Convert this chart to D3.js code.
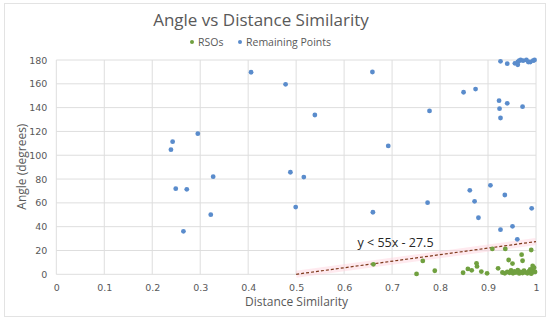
<!DOCTYPE html>
<html>
<head>
<meta charset="utf-8">
<script src="https://cdn.jsdelivr.net/npm/d3@7"></script>
<style>
  body { margin: 0; background: #fff; }
  svg { display: block; }
</style>
</head>
<body>
<div id="chart"></div>
<script>

// RSOs (green) - distance similarity / angle
const rsoX = [0.661, 0.751, 0.764, 0.789, 0.848, 0.858, 0.866, 0.876, 0.877, 0.886, 0.898,
    0.909, 0.921, 0.936, 0.943, 0.951, 0.970, 0.972, 0.990, 0.993,
    0.930, 0.935, 0.940, 0.945, 0.948, 0.952, 0.955, 0.958, 0.962, 0.965, 0.968,
    0.972, 0.975, 0.978, 0.982, 0.985, 0.988, 0.990, 0.991, 0.994, 0.996, 0.998];
const rsoY = [8.4, 0.3, 11.2, 3.0, 1.3, 4.5, 3.3, 9.2, 6.6, 2.3, 0.8,
    21.3, 5.0, 21.3, 12.0, 9.0, 16.5, 11.4, 20.4, 7.0,
    1.5, 0.8, 2.0, 1.2, 3.2, 0.9, 2.4, 1.5, 3.5, 0.7, 2.0,
    1.0, 3.0, 1.6, 0.8, 2.5, 4.2, 0.5, 1.3, 3.0, 5.5, 2.0];

// Remaining points (blue)
const restX = [0.406, 0.478, 0.659, 0.539, 0.295, 0.2425, 0.239, 0.327, 0.488, 0.516,
    0.249, 0.272, 0.499, 0.322, 0.660, 0.265,
    0.926, 0.940, 0.956, 0.962, 0.965, 0.962, 0.968, 0.973, 0.980, 0.984, 0.988, 0.994, 0.997,
    0.849, 0.874, 0.778, 0.923, 0.940, 0.924, 0.972, 0.926, 0.692,
    0.774, 0.862, 0.872, 0.905, 0.935, 0.880, 0.926, 0.951, 0.961, 0.991];
const restY = [169.7, 159.6, 169.9, 133.8, 118.1, 111.4, 104.7, 82.0, 85.7, 81.7,
    71.9, 71.4, 56.5, 50.1, 52.1, 36.1,
    178.9, 176.9, 177.2, 178.3, 179.4, 176.0, 180.0, 179.4, 180.0, 178.3, 178.3, 179.4, 180.0,
    152.9, 155.6, 137.2, 145.8, 143.6, 139.1, 140.8, 131.3, 107.8,
    60.2, 70.5, 61.3, 74.7, 66.6, 47.5, 37.5, 40.3, 29.4, 55.4];

// threshold line y = 55x - 27.5
const lineX = [0.5, 1];
const lineSlope = 55, lineIntercept = -27.5;

const xTicks = [0, 0.1, 0.2, 0.3, 0.4, 0.5, 0.6, 0.7, 0.8, 0.9, 1];
const yTicks = [0, 20, 40, 60, 80, 100, 120, 140, 160, 180];

const W = 550, H = 322;
const margin = {top: 60, right: 14, bottom: 47.7, left: 56.3};
const width = W - margin.left - margin.right;
const height = H - margin.top - margin.bottom;

const svg = d3.select("#chart").append("svg")
    .attr("width", W)
    .attr("height", H);

// outer chart border
svg.append("rect")
    .attr("x", 4.5).attr("y", 3.5)
    .attr("width", 541).attr("height", 313)
    .attr("fill", "#fff")
    .attr("stroke", "#e3e3e3");

const g = svg.append("g")
    .attr("transform", "translate(" + margin.left + "," + margin.top + ")");

const x = d3.scaleLinear().domain([0, 1]).range([0, width]);
const y = d3.scaleLinear().domain([0, 180]).range([height, 0]);

// gridlines
g.append("g")
    .selectAll("line.h")
    .data(yTicks)
    .join("line")
    .attr("x1", 0).attr("x2", width)
    .attr("y1", d => y(d)).attr("y2", d => y(d))
    .attr("stroke", "#dedede");
g.append("g")
    .selectAll("line.v")
    .data(xTicks)
    .join("line")
    .attr("y1", 0).attr("y2", height)
    .attr("x1", d => x(d)).attr("x2", d => x(d))
    .attr("stroke", "#dedede");

// axes (labels only)
const xAxis = d3.axisBottom(x).tickValues(xTicks).tickSize(0).tickPadding(10)
    .tickFormat(d => d3.format("")(d));
const yAxis = d3.axisLeft(y).tickValues(yTicks).tickSize(0).tickPadding(9);

g.append("g")
    .attr("class", "axis")
    .attr("transform", "translate(0," + height + ")")
    .call(xAxis);
g.append("g")
    .attr("class", "axis")
    .call(yAxis);
g.selectAll(".axis .domain").remove();
g.selectAll(".axis text")
    .attr("fill", "#595959")
    .style("font-family", "DejaVu Sans, Verdana, sans-serif")
    .style("font-size", "9.5px");

// threshold line with soft glow
const lineData = lineX.map(v => [v, lineSlope * v + lineIntercept]);
const ln = d3.line().x(d => x(d[0])).y(d => y(d[1]));
g.append("path")
    .datum(lineData)
    .attr("d", ln)
    .attr("fill", "none")
    .attr("stroke", "#ffd0dc")
    .attr("stroke-opacity", 0.45)
    .attr("stroke-width", 7);
g.append("path")
    .datum(lineData)
    .attr("d", ln)
    .attr("fill", "none")
    .attr("stroke", "#7f3a1c")
    .attr("stroke-width", 1.2)
    .attr("stroke-dasharray", "3,2");

g.append("text")
    .attr("x", x(0.628))
    .attr("y", y(22.8))
    .attr("fill", "#262626")
    .style("font-family", "Open Sans, sans-serif")
    .style("font-size", "12.5px")
    .text("y < 55x - 27.5");

// points
const rest = restX.map((v, i) => ({x: v, y: restY[i]}));
const rso = rsoX.map((v, i) => ({x: v, y: rsoY[i]}));

g.append("g")
    .selectAll("circle")
    .data(rest)
    .join("circle")
    .attr("cx", d => x(d.x))
    .attr("cy", d => y(d.y))
    .attr("r", 2.4)
    .attr("fill", "#5a8ccc");

g.append("g")
    .selectAll("circle")
    .data(rso)
    .join("circle")
    .attr("cx", d => x(d.x))
    .attr("cy", d => y(d.y))
    .attr("r", 2.4)
    .attr("fill", "#70a03f");

// title
svg.append("text")
    .attr("x", 261)
    .attr("y", 26)
    .attr("text-anchor", "middle")
    .attr("fill", "#595959")
    .style("font-family", "Open Sans, sans-serif")
    .style("font-size", "17px")
    .text("Angle vs Distance Similarity");

// legend
const legend = svg.append("g").attr("transform", "translate(192,42)");
legend.append("circle").attr("cx", 0).attr("cy", 0).attr("r", 2).attr("fill", "#70a03f");
legend.append("text").attr("x", 6).attr("y", 3.8)
    .attr("fill", "#595959")
    .style("font-family", "Open Sans, sans-serif").style("font-size", "10.5px")
    .text("RSOs");
legend.append("circle").attr("cx", 48).attr("cy", 0).attr("r", 2).attr("fill", "#5a8ccc");
legend.append("text").attr("x", 54).attr("y", 3.8)
    .attr("fill", "#595959")
    .style("font-family", "Open Sans, sans-serif").style("font-size", "10.5px")
    .text("Remaining Points");

// axis titles
svg.append("text")
    .attr("transform", "translate(26," + (margin.top + height / 2 - 0.5) + ") rotate(-90)")
    .attr("text-anchor", "middle")
    .attr("fill", "#595959")
    .style("font-family", "Open Sans, sans-serif")
    .style("font-size", "12px")
    .text("Angle (degrees)");
svg.append("text")
    .attr("x", 296.5)
    .attr("y", 306)
    .attr("text-anchor", "middle")
    .attr("fill", "#595959")
    .style("font-family", "Open Sans, sans-serif")
    .style("font-size", "12px")
    .text("Distance Similarity");

</script>
</body>
</html>
